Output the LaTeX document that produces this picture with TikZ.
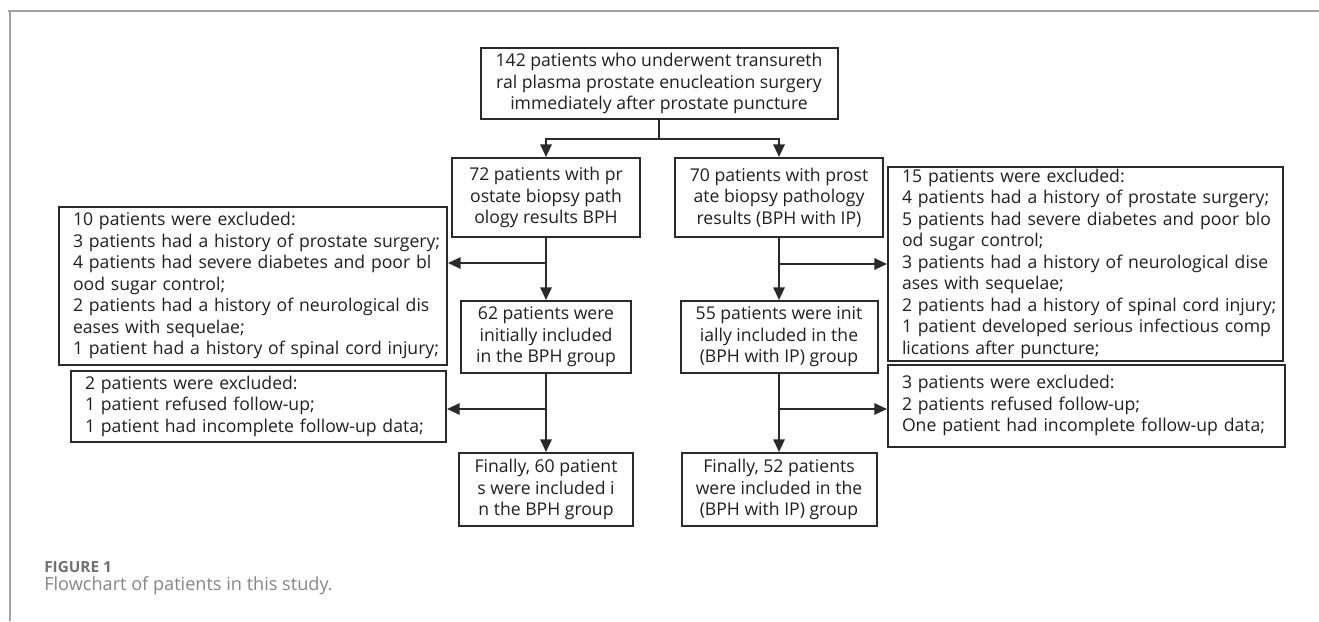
\documentclass[tikz,border=0pt]{standalone}
\usepackage{fontspec}
\setmainfont{Open Sans}
\usetikzlibrary{positioning, arrows.meta}
\definecolor{framegray}{HTML}{A3A3A3}
\definecolor{capgray}{HTML}{707070}
\definecolor{boxline}{HTML}{2A2A2A}
\tikzset{
	>={Triangle[length=9.5pt, width=8.5pt]},
	flow/.style={draw=boxline, line width=1.5pt},
	box/.style={draw=boxline, line width=1.5pt, align=center, inner sep=0pt, text=black!88,
		font=\fontsize{13.2pt}{16.1pt}\selectfont},
	exclbox/.style={box, align=left, inner xsep=10.5pt},
}

\begin{document}
\begin{tikzpicture}[x=0.75pt, y=-0.75pt]
			\useasboundingbox (0,0) rectangle (1319,621);
			\draw [framegray, line width=1.1pt] (8,11) -- (1319,11);
			\draw [framegray, line width=1.1pt] (10,11) -- (10,621);

			\node [box, minimum width=267.75pt, minimum height=53.25pt] (ENROLL) at (659,83.5) {142 patients who underwent transureth\\ral plasma prostate enucleation surgery\\immediately after prostate puncture};
			\node [box, minimum width=141pt, minimum height=59.25pt] (BPHbiopsy) at (546,197.5) {72 patients with pr\\ostate biopsy path\\ology results BPH};
			\node [box, minimum width=156pt, minimum height=59.25pt] (IPbiopsy) at (779,197.5) {70 patients with prost\\ate biopsy pathology\\results (BPH with IP)};
			\node [box, minimum width=127.5pt, minimum height=54pt, below=46.5pt of BPHbiopsy] (BPHinit) {62 patients were\\initially included\\in the BPH group};
			\node [box, minimum width=147.75pt, minimum height=54pt, below=46.5pt of IPbiopsy] (IPinit) {55 patients were init\\ially included in the\\(BPH with IP) group};
			\node [box, minimum width=130.5pt, minimum height=54.75pt, below=58.5pt of BPHinit] (BPHfinal) {Finally, 60 patient\\s were included i\\n the BPH group};
			\node [box, minimum width=146.25pt, minimum height=54.75pt, below=58.5pt of IPinit] (IPfinal) {Finally, 52 patients\\were included in the\\(BPH with IP) group};

			\node [exclbox, text width=270pt, minimum height=118.5pt] (BPHexcl) at (253,286) {\begin{tabular}{@{}l@{}}10 patients were excluded:\\3 patients had a history of prostate surgery;\\4 patients had severe diabetes and poor bl\\ood sugar control;\\2 patients had a history of neurological dis\\eases with sequelae;\\1 patient had a history of spinal cord injury;\end{tabular}};
			\node [exclbox, text width=260.25pt, minimum height=53.25pt] (BPHlost) at (258.5,406.5) {\begin{tabular}{@{}l@{}}2 patients were excluded:\\1 patient refused follow-up;\\1 patient had incomplete follow-up data;\end{tabular}};
			\node [exclbox, text width=275.25pt, minimum height=144pt] (IPexcl) at (1085.5,264) {\begin{tabular}{@{}l@{}}15 patients were excluded:\\4 patients had a history of prostate surgery;\\5 patients had severe diabetes and poor blo\\od sugar control;\\3 patients had a history of neurological dise\\ases with sequelae;\\2 patients had a history of spinal cord injury;\\1 patient developed serious infectious comp\\lications after puncture;\end{tabular}};
			\node [exclbox, text width=276.75pt, minimum height=61.5pt] (IPlost) at (1086.5,406) {\begin{tabular}{@{}l@{}}3 patients were excluded:\\2 patients refused follow-up;\\One patient had incomplete follow-up data;\end{tabular}};

			\coordinate (SPLIT) at (659,139);
			\path (BPHbiopsy.south) ++(0,25) coordinate (BPHcut);
			\path (BPHinit.south) ++(0,35) coordinate (BPHlostcut);
			\path (IPbiopsy.south) ++(0,26) coordinate (IPcut);
			\path (IPinit.south) ++(0,35) coordinate (IPlostcut);

			\draw [flow] (ENROLL) -- (SPLIT);
			\draw [flow, ->] (SPLIT) -| (BPHbiopsy);
			\draw [flow, ->] (SPLIT) -| (IPbiopsy);
			\draw [flow, ->] (BPHbiopsy) -- (BPHinit);
			\draw [flow, ->] (BPHinit) -- (BPHfinal);
			\draw [flow, ->] (IPbiopsy) -- (IPinit);
			\draw [flow, ->] (IPinit) -- (IPfinal);
			\draw [flow, ->] (BPHcut) -- (BPHcut -| BPHexcl.east);
			\draw [flow, ->] (BPHlostcut) -- (BPHlostcut -| BPHlost.east);
			\draw [flow, ->] (IPcut) -- (IPcut -| IPexcl.west);
			\draw [flow, ->] (IPlostcut) -- (IPlostcut -| IPlost.west);

			\node [anchor=base west, inner sep=0pt, text=capgray, font=\fontsize{11.5pt}{13pt}\selectfont\bfseries] (FIGlabel) at (44,572) {FIGURE 1};
			\node [anchor=base west, inner sep=0pt, text=capgray!85, font=\fontsize{13.6pt}{16pt}\selectfont] (FIGcaption) at (44,590) {Flowchart of patients in this study.};
		\end{tikzpicture}
\end{document}
